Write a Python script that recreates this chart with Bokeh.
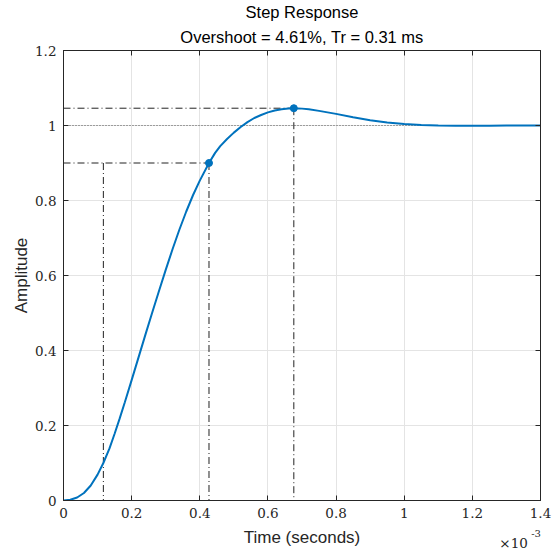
from bokeh.plotting import figure
from bokeh.models import Range1d, FixedTicker, LinearAxis, ColumnDataSource, Title
from bokeh.embed import file_html
from bokeh.resources import INLINE

# ---- data (time in ms, amplitude) ----
t_ms = [0.0, 0.02, 0.04, 0.06, 0.08, 0.10, 0.117, 0.135, 0.15, 0.165, 0.18, 0.20,
        0.22, 0.24, 0.26, 0.28, 0.30, 0.32, 0.34, 0.36, 0.38, 0.40, 0.427, 0.445,
        0.46, 0.48, 0.50, 0.52, 0.54, 0.56, 0.58, 0.60, 0.62, 0.64, 0.66, 0.676,
        0.70, 0.72, 0.75, 0.80, 0.85, 0.90, 0.95, 1.00, 1.05, 1.10, 1.15, 1.20,
        1.25, 1.30, 1.35, 1.40]
amplitude = [0.0, 0.0022, 0.008, 0.020, 0.040, 0.069, 0.100, 0.139, 0.178, 0.219,
             0.262, 0.321, 0.381, 0.441, 0.500, 0.558, 0.615, 0.670, 0.722, 0.770,
             0.814, 0.853, 0.900, 0.927, 0.945, 0.964, 0.981, 0.996, 1.009, 1.020,
             1.028, 1.035, 1.040, 1.0435, 1.0455, 1.0461, 1.045, 1.0435, 1.039,
             1.031, 1.022, 1.014, 1.008, 1.004, 1.0015, 1.0, 0.9993, 0.9992,
             0.9994, 0.9997, 0.9999, 1.0]

t10 = 0.117          # 10% time (ms)
t90 = 0.427          # 90% time (ms)
y90 = 0.9
t_peak = 0.676       # peak time (ms)
y_peak = 1.0461      # peak amplitude
y_final = 1.0

marker_t = [t90, t_peak]
marker_y = [y90, y_peak]

x_ticks = [0, 0.2, 0.4, 0.6, 0.8, 1.0, 1.2, 1.4]
x_tick_labels = ["0", "0.2", "0.4", "0.6", "0.8", "1", "1.2", "1.4"]
y_ticks = [0, 0.2, 0.4, 0.6, 0.8, 1.0, 1.2]
y_tick_labels = ["0", "0.2", "0.4", "0.6", "0.8", "1", "1.2"]

title_lines = ["Step Response", "Overshoot = 4.61%, Tr = 0.31 ms"]
x_label = "Time (seconds)"
y_label = "Amplitude"
exponent_base = "\u00d710"
exponent_power = "-3"

# ---- figure ----
BLUE = "#0072BD"
AXC = "#262626"
SANS = "Liberation Sans"
SERIF = "DejaVu Serif"

p = figure(width=557, height=554, output_backend="svg", toolbar_location=None,
           x_range=Range1d(0, 1.4), y_range=Range1d(0, 1.2),
           min_border_left=63, min_border_right=17, min_border_top=50,
           min_border_bottom=54)
p.outline_line_color = AXC
p.outline_line_width = 1
p.background_fill_color = "white"
p.border_fill_color = "white"

for ax in (p.xaxis[0], p.yaxis[0]):
    ax.major_tick_in = 5
    ax.major_tick_out = 0
    ax.minor_tick_line_color = None
    ax.axis_line_color = AXC
    ax.major_tick_line_color = AXC
    ax.major_label_text_font = SERIF
    ax.major_label_text_font_size = "13.5px"
    ax.major_label_text_color = AXC
    ax.axis_label_text_font = SANS
    ax.axis_label_text_font_size = "17px"
    ax.axis_label_text_font_style = "normal"
    ax.axis_label_text_color = AXC

p.xaxis.ticker = FixedTicker(ticks=x_ticks)
p.yaxis.ticker = FixedTicker(ticks=y_ticks)
p.xaxis.major_label_overrides = {t: s for t, s in zip(x_ticks, x_tick_labels)}
p.yaxis.major_label_overrides = {t: s for t, s in zip(y_ticks, y_tick_labels)}
p.xaxis.axis_label = x_label
p.yaxis.axis_label = y_label
p.xaxis.major_label_standoff = 7
p.yaxis.major_label_standoff = 7
p.xaxis.axis_label_standoff = 7
p.yaxis.axis_label_standoff = 1

# box ticks on top and right
for loc, ticks in (("right", y_ticks), ("above", x_ticks)):
    ax = LinearAxis(ticker=FixedTicker(ticks=ticks))
    ax.major_tick_in = 5
    ax.major_tick_out = 0
    ax.minor_tick_line_color = None
    ax.axis_line_color = AXC
    ax.major_tick_line_color = AXC
    ax.major_label_text_font_size = "0px"
    ax.major_label_standoff = 0
    p.add_layout(ax, loc)


def label_axis(pos, text, size, standoff):
    a = LinearAxis(ticker=FixedTicker(ticks=[pos]),
                   major_label_overrides={pos: text})
    a.major_tick_in = 0
    a.major_tick_out = 0
    a.major_tick_line_color = None
    a.minor_tick_line_color = None
    a.axis_line_color = None
    a.major_label_text_font = SERIF
    a.major_label_text_font_size = size
    a.major_label_text_color = AXC
    a.major_label_standoff = standoff
    return a


# x10^-3 multiplier drawn as labels of extra, invisible bottom axes
p.add_layout(label_axis(1.321, exponent_base, "13.5px", -15), "below")
p.add_layout(label_axis(1.387, exponent_power, "10px", -24), "below")

# title (two lines, second line closest to the frame)
p.add_layout(Title(text=title_lines[1], align="center", text_font=SANS,
                   text_font_size="16.5px", text_font_style="normal",
                   text_color="black", standoff=10), "above")
p.add_layout(Title(text=title_lines[0], align="center", text_font=SANS,
                   text_font_size="16.5px", text_font_style="normal",
                   text_color="black", standoff=0), "above")

p.xgrid.ticker = FixedTicker(ticks=x_ticks)
p.ygrid.ticker = FixedTicker(ticks=y_ticks)
p.grid.grid_line_color = "#e4e4e4"
p.grid.grid_line_width = 1

# steady-state dotted line
p.line([0, 1.4], [y_final, y_final], line_color="#555555", line_width=1,
       line_dash="1 2")

# dash-dot characteristic lines
DD = "7 3 1 3"
DDC = "#222222"
p.line([0, t_peak], [y_peak, y_peak], line_color=DDC, line_width=1, line_dash=DD)
p.line([t_peak, t_peak], [y_peak, 0], line_color=DDC, line_width=1, line_dash=DD)
p.line([0, t90], [y90, y90], line_color=DDC, line_width=1, line_dash=DD)
p.line([t90, t90], [y90, 0], line_color=DDC, line_width=1, line_dash=DD)
p.line([t10, t10], [y90, 0], line_color=DDC, line_width=1, line_dash=DD)

# response curve
src = ColumnDataSource(dict(t=t_ms, y=amplitude))
p.line("t", "y", source=src, line_color=BLUE, line_width=2)
p.scatter(marker_t, marker_y, size=7, fill_color=BLUE, line_color=BLUE)

open("out.html", "w").write(file_html(p, INLINE))
